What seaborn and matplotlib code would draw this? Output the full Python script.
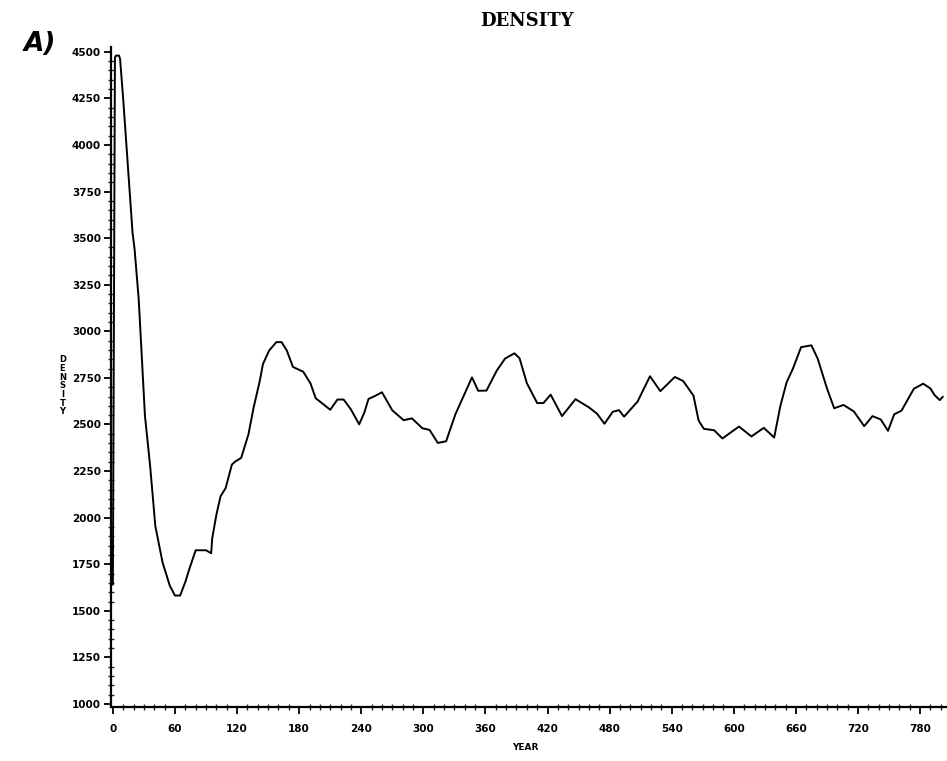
import matplotlib
matplotlib.use("Agg")
import matplotlib.pyplot as plt
import seaborn as sns
import pandas as pd
from matplotlib.ticker import MultipleLocator

# values
years = [0, 2, 3, 6, 7, 10, 19, 21, 25, 31, 36, 41, 48, 55, 60, 65, 70, 74, 80, 90,
         95, 96, 100, 104, 109, 115, 118, 124, 131, 136, 142, 145, 151, 158, 163, 168,
         174, 184, 191, 196, 204, 210, 217, 223, 230, 238, 243, 247, 254, 260, 270,
         281, 289, 299, 306, 314, 322, 331, 347, 353, 361, 371, 379, 388, 393, 400,
         410, 416, 423, 434, 447, 460, 468, 475, 483, 489, 494, 507, 519, 529, 543,
         551, 561, 566, 571, 581, 589, 605, 617, 629, 639, 645, 651, 657, 665, 675,
         681, 690, 697, 706, 716, 726, 734, 742, 749, 755, 762, 774, 783, 790, 794,
         799, 802]
density = [1640, 4470, 4480, 4480, 4460, 4245, 3530, 3440, 3170, 2546, 2278, 1956,
           1760, 1635, 1582, 1582, 1655, 1726, 1825, 1825, 1809, 1889, 2015, 2114,
           2159, 2285, 2300, 2321, 2447, 2591, 2735, 2824, 2897, 2942, 2942, 2898,
           2809, 2783, 2720, 2641, 2606, 2579, 2634, 2634, 2581, 2501, 2564, 2637,
           2655, 2673, 2576, 2523, 2533, 2480, 2471, 2401, 2410, 2555, 2753, 2681,
           2682, 2790, 2854, 2882, 2855, 2722, 2615, 2615, 2660, 2545, 2636, 2592,
           2557, 2504, 2568, 2577, 2542, 2623, 2759, 2679, 2755, 2734, 2655, 2521,
           2477, 2469, 2425, 2489, 2436, 2482, 2430, 2600, 2726, 2798, 2915, 2925,
           2854, 2694, 2587, 2605, 2570, 2491, 2545, 2527, 2466, 2555, 2574, 2692,
           2719, 2693, 2658, 2631, 2649]

x_ticks = list(range(0, 781, 60))
y_ticks = list(range(1000, 4501, 250))

df = pd.DataFrame({"YEAR": years, "DENSITY": density})

sns.set_style("ticks")
plt.rcParams["font.family"] = ["DejaVu Sans"]
plt.rcParams["text.color"] = "black"

fig = plt.figure(figsize=(9.47, 7.61), dpi=100)
ax = fig.add_axes([0.117, 0.071, 0.883, 0.867])

sns.lineplot(data=df, x="YEAR", y="DENSITY", color="black", linewidth=1.4,
             estimator=None, sort=False, ax=ax)

ax.set_xlim(-2, 806)
ax.set_ylim(984, 4525)
ax.set_xticks(x_ticks)
ax.set_yticks(y_ticks)
ax.xaxis.set_minor_locator(MultipleLocator(10))
ax.yaxis.set_minor_locator(MultipleLocator(50))

for s in ["top", "right"]:
    ax.spines[s].set_visible(False)
for s in ["left", "bottom"]:
    ax.spines[s].set_linewidth(1.6)
    ax.spines[s].set_color("black")

ax.tick_params(axis="both", which="major", direction="out", length=5, width=1.3,
               labelsize=7.5, colors="black", pad=2)
ax.tick_params(axis="x", which="major", pad=7)
ax.tick_params(axis="both", which="minor", direction="inout", length=4, width=1.0)
for lab in ax.get_xticklabels() + ax.get_yticklabels():
    lab.set_fontweight("bold")

ax.set_xlabel("")
ax.set_ylabel("")

# axis titles as in the plotter output
fig.text(0.555, 0.012, "YEAR", fontsize=6.5, fontweight="bold", ha="center",
         va="bottom", color="black")
fig.text(0.066, 0.493, "D\nE\nN\nS\nI\nT\nY", fontsize=6, fontweight="bold",
         ha="center", va="center", linespacing=0.95, color="black")

fig.text(0.556, 0.973, "DENSITY", family="DejaVu Serif", fontsize=13,
         fontweight="bold", ha="center", va="center", color="black")
fig.text(0.042, 0.942, "A)", fontsize=19, fontweight="bold", style="italic",
         ha="center", va="center", color="black")

fig.savefig("out.png", dpi=100)
